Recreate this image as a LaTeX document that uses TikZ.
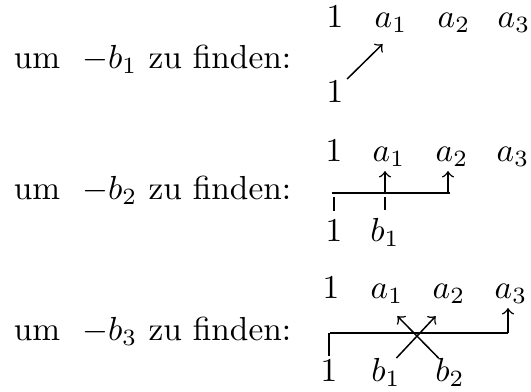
\documentclass[tikz,border=0pt]{standalone}
\usetikzlibrary{calc}

\begin{document}
\begin{tikzpicture}[x=0.3pt,y=-0.3pt,font=\normalsize,line width=0.45pt,
    ent/.style={anchor=base,inner sep=0pt},
    lbl/.style={anchor=base west,inner sep=0pt},
    arr/.style={->,shorten >=1pt}]
  \useasboundingbox (0,0) rectangle (531,392);

  % erste Zeile
  \node[lbl] (lab1) at (13,69) {um\ \ $-b_1$ zu finden:};
  \node[ent] (one1) at (335,28) {1};
  \node[ent] (a11) at (391,28) {$a_1$};
  \node[ent] (a12) at (454,28) {$a_2$};
  \node[ent] (a13) at (514,28) {$a_3$};
  \node[ent] (one1b) at (335,103) {1};
  \draw[arr] ([shift={(3,-1)}]one1b.north east) -- ([shift={(-6,8)}]a11.south);

  % zweite Zeile
  \node[lbl] (lab2) at (13,200) {um\ \ $-b_2$ zu finden:};
  \node[ent] (one2) at (334,162) {1};
  \node[ent] (a21) at (389,162) {$a_1$};
  \node[ent] (a22) at (452,162) {$a_2$};
  \node[ent] (a23) at (513,162) {$a_3$};
  \node[ent] (one2b) at (334,242) {1};
  \node[ent] (b21) at (385,242) {$b_1$};
  \coordinate (L2w) at (332,193);
  \coordinate (L2e) at (450,193);
  \draw (L2w) -- (L2e);
  \draw[shorten <=2.5pt,shorten >=1.2pt] (one2b.north) -- (one2b.north |- L2w);
  \draw[shorten <=2.5pt,shorten >=1.2pt] (b21.north) -- (b21.north |- L2w);
  \draw[arr] (b21.north |- L2w) -- (b21.north |- a21.south);
  \draw[arr] ([shift={(-4,0)}]a22.south |- L2e) -- ([shift={(-4,0)}]a22.south);

  % dritte Zeile
  \node[lbl] (lab3) at (13,341) {um\ \ $-b_3$ zu finden:};
  \node[ent] (one3) at (331,299) {1};
  \node[ent] (a31) at (387,299) {$a_1$};
  \node[ent] (a32) at (449,299) {$a_2$};
  \node[ent] (a33) at (511,299) {$a_3$};
  \node[ent] (one3b) at (329,382) {1};
  \node[ent] (b31) at (386,382) {$b_1$};
  \node[ent] (b32) at (450,382) {$b_2$};
  \coordinate (L3w) at (330,333);
  \coordinate (L3e) at (508,333);
  \draw (L3w) -- (L3e);
  \draw[shorten <=1pt] (one3b.north) -- (one3b.north |- L3w);
  \draw[arr] ([shift={(-5,0)}]b31.north east) -- ([shift={(6,9)}]a32.south west);
  \draw[arr] ([shift={(4,0)}]b32.north west) -- ([shift={(-9,9)}]a31.south east);
  \draw[arr] (L3e) -- (L3e |- a33.south);
\end{tikzpicture}
\end{document}
